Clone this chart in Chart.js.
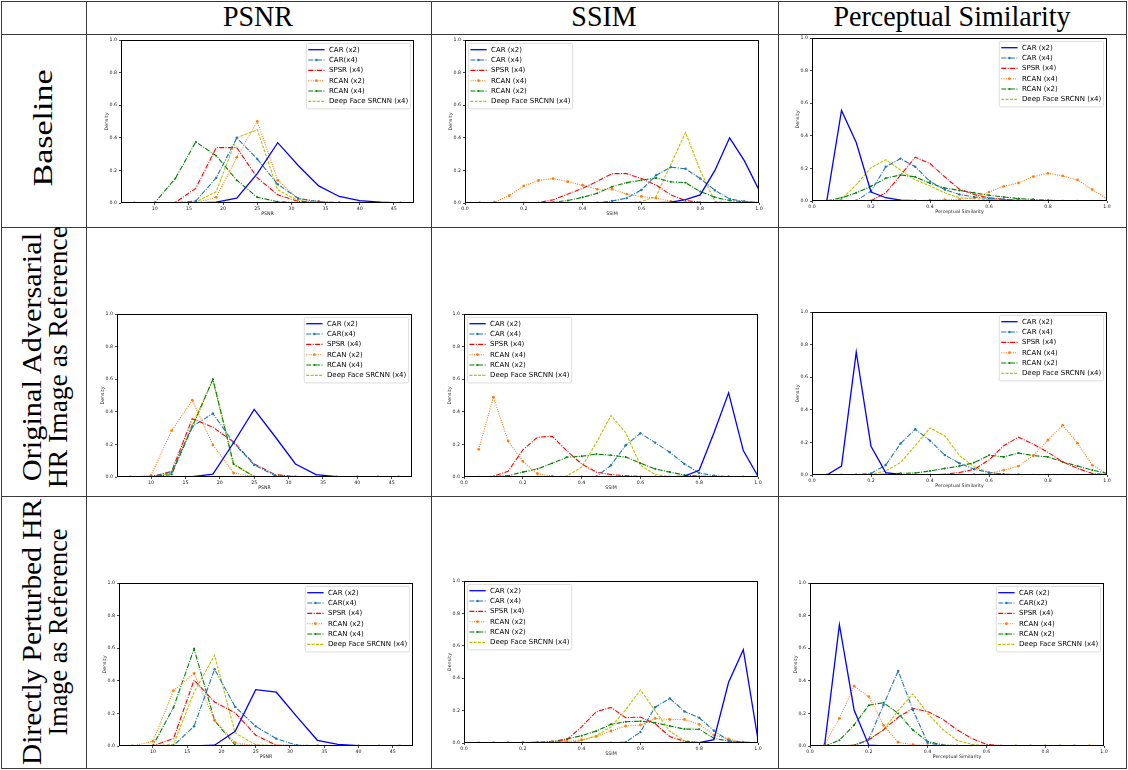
<!DOCTYPE html>
<html><head><meta charset="utf-8">
<script src="https://cdn.jsdelivr.net/npm/chart.js@4.4.0/dist/chart.umd.min.js"></script>
<style>
html,body{margin:0;padding:0;background:#fff;}
#page{position:relative;width:1128px;height:770px;overflow:hidden;background:#fff;}
.hl{position:absolute;height:1px;background:#3a3a3a;}
.vl{position:absolute;width:1px;background:#3a3a3a;}
.lbl{position:absolute;font-family:"Liberation Serif",serif;font-size:28px;line-height:28px;white-space:nowrap;color:#000;}
canvas{position:absolute;}
</style></head><body><div id="page"></div>
<script>
// ---------- text ----------
const colHeaders = ['PSNR', 'SSIM', 'Perceptual Similarity'];
const rowHeaders = [['Baseline'], ['Original Adversarial', 'HR Image as Reference'], ['Directly Perturbed HR', 'Image as Reference']];
const xTitles = ['PSNR', 'SSIM', 'Perceptual Similarity'];
const yTitle = 'Density';
const legendPsnr = ['CAR (x2)', 'CAR(x4)', 'SPSR (x4)', 'RCAN (x2)', 'RCAN (x4)', 'Deep Face SRCNN (x4)'];
const legendUnit = ['CAR (x2)', 'CAR (x4)', 'SPSR (x4)', 'RCAN (x4)', 'RCAN (x2)', 'Deep Face SRCNN (x4)'];
const legendDirSsim = ['CAR (x2)', 'CAR (x4)', 'SPSR (x4)', 'RCAN (x2)', 'RCAN (x2)', 'Deep Face SRCNN (x4)'];
const legendDirPerc = ['CAR (x2)', 'CAR(x2)', 'SPSR (x4)', 'RCAN (x4)', 'RCAN (x2)', 'Deep Face SRCNN (x4)'];

// ---------- x values & ticks ----------
const psnrX = [7, 10, 13, 16, 19, 22, 25, 28, 31, 34, 37, 40, 43, 46];
const unitX = [0.05, 0.10, 0.15, 0.20, 0.25, 0.30, 0.35, 0.40, 0.45, 0.50, 0.55, 0.60, 0.65, 0.70, 0.75, 0.80, 0.85, 0.90, 0.95, 1.00];
const psnrTicks = [10, 15, 20, 25, 30, 35, 40, 45];
const unitTicks = [0, 0.2, 0.4, 0.6, 0.8, 1.0];
const densityTicks = [0, 0.2, 0.4, 0.6, 0.8, 1.0];

// ---------- Baseline ----------
const basePsnrCar2  = [0, 0, 0, 0, 0.005, 0.03, 0.18, 0.37, 0.23, 0.105, 0.04, 0.015, 0.005, 0];
const basePsnrCar4  = [0, 0, 0.001, 0.012, 0.155, 0.40, 0.27, 0.115, 0.028, 0.008, 0.002, 0, 0, 0];
const basePsnrSpsr  = [0, 0, 0.003, 0.09, 0.34, 0.34, 0.155, 0.05, 0.01, 0.002, 0, 0, 0, 0];
const basePsnrRcanO = [0, 0, 0, 0.002, 0.035, 0.28, 0.50, 0.14, 0.025, 0.01, 0.002, 0, 0, 0];
const basePsnrRcanG = [0, 0.002, 0.15, 0.375, 0.29, 0.14, 0.035, 0.008, 0.002, 0, 0, 0, 0, 0];
const basePsnrDfsr  = [0, 0, 0, 0.005, 0.07, 0.40, 0.45, 0.08, 0.015, 0.003, 0, 0, 0, 0];

const baseSsimCar2  = [0, 0, 0, 0, 0, 0, 0, 0, 0, 0, 0, 0, 0.002, 0.005, 0.02, 0.05, 0.2, 0.40, 0.26, 0.08];
const baseSsimCar4  = [0, 0, 0, 0, 0, 0, 0, 0, 0.002, 0.012, 0.03, 0.08, 0.17, 0.22, 0.21, 0.15, 0.078, 0.025, 0.01, 0.002];
const baseSsimSpsr  = [0, 0, 0, 0, 0.002, 0.02, 0.055, 0.09, 0.133, 0.18, 0.18, 0.15, 0.11, 0.05, 0.015, 0.005, 0.002, 0, 0, 0];
const baseSsimRcanO = [0, 0.005, 0.045, 0.105, 0.138, 0.15, 0.131, 0.109, 0.084, 0.085, 0.055, 0.04, 0.03, 0.01, 0.005, 0.002, 0, 0, 0, 0];
const baseSsimRcanG = [0, 0, 0, 0, 0.002, 0.005, 0.015, 0.035, 0.06, 0.1, 0.125, 0.14, 0.154, 0.13, 0.125, 0.07, 0.035, 0.015, 0.008, 0.002];
const baseSsimDfsr  = [0, 0, 0, 0, 0, 0, 0, 0, 0, 0, 0.002, 0.01, 0.04, 0.236, 0.433, 0.2, 0.01, 0.002, 0, 0];

const basePercCar2  = [0, 0.556, 0.359, 0.055, 0.02, 0.005, 0.002, 0, 0, 0, 0, 0, 0, 0, 0, 0, 0, 0, 0, 0];
const basePercCar4  = [0, 0, 0.002, 0.06, 0.21, 0.26, 0.21, 0.12, 0.07, 0.04, 0.025, 0.015, 0.01, 0.005, 0.003, 0.001, 0.001, 0.001, 0.001, 0.001];
const basePercSpsr  = [0, 0, 0, 0.002, 0.05, 0.158, 0.269, 0.23, 0.148, 0.072, 0.04, 0.02, 0.01, 0.005, 0.002, 0, 0, 0, 0, 0];
const basePercRcanO = [0, 0, 0, 0, 0, 0.002, 0.002, 0.005, 0.008, 0.01, 0.02, 0.055, 0.09, 0.111, 0.15, 0.17, 0.154, 0.129, 0.07, 0.014];
const basePercRcanG = [0.002, 0.02, 0.05, 0.09, 0.14, 0.16, 0.148, 0.109, 0.08, 0.065, 0.05, 0.035, 0.025, 0.015, 0.01, 0.005, 0.002, 0, 0, 0];
const basePercDfsr  = [0, 0.01, 0.1, 0.205, 0.253, 0.19, 0.13, 0.092, 0.05, 0.02, 0.015, 0.008, 0.005, 0.002, 0, 0, 0, 0, 0, 0];

// ---------- Original Adversarial HR Image as Reference ----------
const advPsnrCar2  = [0, 0, 0, 0.002, 0.018, 0.21, 0.415, 0.25, 0.08, 0.015, 0.002, 0, 0, 0];
const advPsnrCar4  = [0, 0.002, 0.03, 0.31, 0.39, 0.21, 0.074, 0.01, 0.002, 0, 0, 0, 0, 0];
const advPsnrSpsr  = [0, 0.002, 0.035, 0.358, 0.305, 0.215, 0.08, 0.015, 0.002, 0, 0, 0, 0, 0];
const advPsnrRcanO = [0, 0.01, 0.285, 0.471, 0.197, 0.025, 0.002, 0, 0, 0, 0, 0, 0, 0];
const advPsnrRcanG = [0, 0.002, 0.015, 0.307, 0.6, 0.08, 0.002, 0, 0, 0, 0, 0, 0, 0];
const advPsnrDfsr  = [0, 0, 0.022, 0.32, 0.595, 0.075, 0.003, 0, 0, 0, 0, 0, 0, 0];

const advSsimCar2  = [0, 0, 0, 0, 0, 0, 0, 0, 0, 0, 0, 0, 0, 0, 0.005, 0.041, 0.27, 0.516, 0.162, 0.005];
const advSsimCar4  = [0, 0, 0, 0, 0, 0, 0, 0, 0.002, 0.072, 0.195, 0.268, 0.211, 0.152, 0.08, 0.025, 0.008, 0.002, 0, 0];
const advSsimSpsr  = [0, 0.005, 0.035, 0.166, 0.244, 0.25, 0.16, 0.08, 0.03, 0.015, 0.008, 0.003, 0, 0, 0, 0, 0, 0, 0, 0];
const advSsimRcanO = [0.17, 0.49, 0.221, 0.096, 0.02, 0.005, 0, 0, 0, 0, 0, 0, 0, 0, 0, 0, 0, 0, 0, 0];
const advSsimRcanG = [0, 0.002, 0.008, 0.03, 0.05, 0.084, 0.121, 0.127, 0.141, 0.133, 0.123, 0.085, 0.05, 0.03, 0.012, 0.005, 0.002, 0, 0, 0];
const advSsimDfsr  = [0, 0, 0, 0, 0, 0.002, 0.005, 0.061, 0.21, 0.377, 0.272, 0.072, 0.015, 0.003, 0, 0, 0, 0, 0, 0];

const advPercCar2  = [0, 0.055, 0.754, 0.176, 0.015, 0.003, 0, 0, 0, 0, 0, 0, 0, 0, 0, 0, 0, 0, 0, 0];
const advPercCar4  = [0, 0, 0.002, 0.01, 0.061, 0.193, 0.281, 0.211, 0.123, 0.072, 0.035, 0.015, 0.005, 0.003, 0.001, 0.001, 0.001, 0.001, 0.001, 0.001];
const advPercSpsr  = [0, 0, 0, 0, 0, 0, 0, 0.002, 0.005, 0.015, 0.035, 0.092, 0.18, 0.232, 0.189, 0.139, 0.08, 0.04, 0.01, 0.002];
const advPercRcanO = [0, 0, 0, 0, 0, 0, 0, 0, 0, 0, 0.003, 0.01, 0.03, 0.055, 0.119, 0.215, 0.305, 0.195, 0.061, 0.01];
const advPercRcanG = [0, 0, 0, 0.002, 0.005, 0.01, 0.012, 0.025, 0.04, 0.055, 0.076, 0.121, 0.111, 0.135, 0.119, 0.111, 0.08, 0.055, 0.03, 0.01];
const advPercDfsr  = [0, 0, 0, 0.003, 0.025, 0.076, 0.18, 0.289, 0.24, 0.119, 0.05, 0.015, 0.005, 0.002, 0, 0, 0, 0, 0, 0];

// ---------- Directly Perturbed HR Image as Reference ----------
const dirPsnrCar2  = [0, 0, 0, 0, 0.005, 0.09, 0.346, 0.33, 0.18, 0.035, 0.01, 0.002, 0, 0];
const dirPsnrCar4  = [0, 0, 0.002, 0.121, 0.471, 0.24, 0.121, 0.045, 0.005, 0.002, 0, 0, 0, 0];
const dirPsnrSpsr  = [0, 0.002, 0.045, 0.404, 0.27, 0.203, 0.066, 0.005, 0.002, 0, 0, 0, 0, 0];
const dirPsnrRcanO = [0, 0.029, 0.34, 0.445, 0.158, 0.02, 0.002, 0, 0, 0, 0, 0, 0, 0];
const dirPsnrRcanG = [0, 0.003, 0.236, 0.596, 0.156, 0.005, 0, 0, 0, 0, 0, 0, 0, 0];
const dirPsnrDfsr  = [0, 0, 0.01, 0.33, 0.557, 0.08, 0.008, 0.002, 0, 0, 0, 0, 0, 0];

const dirSsimCar2  = [0, 0, 0, 0, 0, 0, 0, 0, 0, 0, 0, 0, 0, 0, 0, 0.002, 0.02, 0.375, 0.576, 0.02];
const dirSsimCar4  = [0, 0, 0, 0, 0, 0, 0, 0, 0, 0.002, 0.005, 0.068, 0.221, 0.275, 0.195, 0.156, 0.076, 0.015, 0.003, 0];
const dirSsimSpsr  = [0, 0, 0, 0, 0, 0.005, 0.02, 0.1, 0.193, 0.22, 0.156, 0.16, 0.119, 0.04, 0.01, 0.003, 0, 0, 0, 0];
const dirSsimRcanO = [0, 0.001, 0.002, 0.003, 0.005, 0.008, 0.01, 0.02, 0.04, 0.074, 0.105, 0.111, 0.152, 0.145, 0.145, 0.115, 0.049, 0.025, 0.005, 0];
const dirSsimRcanG = [0, 0, 0, 0.002, 0.005, 0.01, 0.025, 0.045, 0.074, 0.115, 0.131, 0.135, 0.125, 0.105, 0.086, 0.085, 0.029, 0.012, 0.005, 0.002];
const dirSsimDfsr  = [0, 0, 0, 0, 0, 0, 0.002, 0.015, 0.045, 0.1, 0.205, 0.328, 0.2, 0.072, 0.015, 0.003, 0, 0, 0, 0];

const dirPercCar2  = [0.01, 0.744, 0.221, 0.005, 0, 0, 0, 0, 0, 0, 0, 0, 0, 0, 0, 0, 0, 0, 0, 0];
const dirPercCar2b = [0, 0, 0.002, 0.041, 0.252, 0.461, 0.221, 0.02, 0.003, 0, 0, 0, 0, 0, 0, 0, 0, 0, 0, 0];
const dirPercSpsr  = [0, 0.001, 0.005, 0.037, 0.1, 0.176, 0.231, 0.211, 0.166, 0.1, 0.047, 0.01, 0.002, 0, 0, 0, 0, 0, 0, 0];
const dirPercRcanO = [0.01, 0.17, 0.367, 0.303, 0.127, 0.023, 0.008, 0.002, 0, 0, 0, 0, 0, 0, 0, 0, 0, 0, 0, 0];
const dirPercRcanG = [0, 0.035, 0.129, 0.25, 0.266, 0.2, 0.098, 0.027, 0.008, 0.002, 0, 0, 0, 0, 0, 0, 0, 0, 0, 0];
const dirPercDfsr  = [0, 0.001, 0.005, 0.04, 0.098, 0.219, 0.32, 0.2, 0.104, 0.035, 0.01, 0.002, 0, 0, 0, 0, 0, 0, 0, 0];

// ---------- styles (per series slot) ----------
const STY = [
  {c: '#0000ff', d: [], r: 0, w: 1.3},
  {c: '#1f77b4', d: [5, 1.4, 1, 1.4], r: 1.2, w: 1.1},
  {c: '#ff0000', d: [5, 1.4, 1, 1.4], r: 0, w: 1.1},
  {c: '#ff7f0e', d: [1, 1.3], r: 1.4, w: 1.1},
  {c: '#008000', d: [5, 1.4, 1, 1.4], r: 1.0, w: 1.1},
  {c: '#bfbf00', d: [3, 1.3], r: 0, w: 1.1}
];

// ---------- layout ----------
const page = document.getElementById('page');
function hl(x1, x2, y) { const d = document.createElement('div'); d.className = 'hl'; d.style.left = x1 + 'px'; d.style.width = (x2 - x1 + 1) + 'px'; d.style.top = y + 'px'; page.appendChild(d); }
function vl(x, y1, y2) { const d = document.createElement('div'); d.className = 'vl'; d.style.left = x + 'px'; d.style.top = y1 + 'px'; d.style.height = (y2 - y1 + 1) + 'px'; page.appendChild(d); }
const gridX = [1, 86, 431, 778, 1126];
const gridY = [1, 34, 227, 496, 768];
gridY.forEach(y => hl(1, 1126, y));
gridX.forEach(x => vl(x, 1, 768));

const measureCtx = document.createElement('canvas').getContext('2d');
measureCtx.font = '28px "Liberation Serif"';
function label(text, cx, cy, rot, targetLen, thick) {
  const d = document.createElement('div');
  d.className = 'lbl';
  d.textContent = text;
  d.style.left = cx + 'px'; d.style.top = cy + 'px';
  let sx = 1;
  if (targetLen) sx = targetLen / measureCtx.measureText(text).width;
  const sy = thick || 1;
  d.style.transform = 'translate(-50%,-50%)' + (rot ? ' rotate(-90deg)' : '') + ` scale(${sx},${sy})`;
  page.appendChild(d);
}
const headCenters = [258, 604, 952];
colHeaders.forEach((t, i) => label(t, headCenters[i], 17, false, 0, 1.05));
const rowCenters = [128, 357, 632];
const rowLens = [[117], [250, 262], [266, 207]];
rowHeaders.forEach((lines, i) => {
  if (lines.length === 1) label(lines[0], 43, rowCenters[i], true, rowLens[i][0], 0.95);
  else { label(lines[0], 32, rowCenters[i], true, rowLens[i][0], 0.95); label(lines[1], 58, rowCenters[i], true, rowLens[i][1], 0.95); }
});

// ---------- plugin: frame + matplotlib-like legend ----------
const mplFrameLegend = {
  id: 'mplFrameLegend',
  afterDatasetsDraw(chart, args, opts) {
    const ctx = chart.ctx, ca = chart.chartArea;
    ctx.save();
    ctx.strokeStyle = '#000'; ctx.lineWidth = 1; ctx.setLineDash([]);
    ctx.strokeRect(ca.left + 0.5, ca.top + 0.5, ca.right - ca.left - 1, ca.bottom - ca.top - 1);
    const ds = chart.data.datasets;
    ctx.font = '7px "DejaVu Sans"';
    let tw = 0; ds.forEach(d => { tw = Math.max(tw, ctx.measureText(d.label).width); });
    const w = 2 + 16.3 + 4.4 + tw + 2.3, h = 65.5;
    const x0 = opts.side === 'left' ? ca.left + 3.4 : ca.right - 3.4 - w;
    const y0 = ca.top + 3.4;
    ctx.beginPath(); ctx.roundRect(x0, y0, w, h, 1.5);
    ctx.fillStyle = 'rgba(255,255,255,0.85)'; ctx.fill();
    ctx.strokeStyle = '#d4d4d4'; ctx.lineWidth = 0.8; ctx.stroke();
    ds.forEach((d, i) => {
      const cy = y0 + 6.3 + i * 10.33;
      const sx = x0 + 2;
      ctx.beginPath(); ctx.moveTo(sx, cy); ctx.lineTo(sx + 16.3, cy);
      ctx.strokeStyle = d.borderColor; ctx.lineWidth = d.borderWidth; ctx.setLineDash(d.borderDash || []); ctx.stroke();
      ctx.setLineDash([]);
      if (d.pointRadius > 0) { ctx.beginPath(); ctx.arc(sx + 8.15, cy, d.pointRadius, 0, Math.PI * 2); ctx.fillStyle = d.borderColor; ctx.fill(); }
      ctx.fillStyle = '#000'; ctx.textBaseline = 'middle'; ctx.textAlign = 'left';
      ctx.fillText(d.label, sx + 16.3 + 4.4, cy + 0.3);
    });
    ctx.restore();
  }
};

Chart.defaults.font.family = '"DejaVu Sans", sans-serif';
Chart.defaults.color = '#222';

const panels = [
  {rect: [121, 40, 414, 203], kind: 0, side: 'right', labels: legendPsnr, series: [basePsnrCar2, basePsnrCar4, basePsnrSpsr, basePsnrRcanO, basePsnrRcanG, basePsnrDfsr]},
  {rect: [465, 40, 759, 203], kind: 1, side: 'left', labels: legendUnit, series: [baseSsimCar2, baseSsimCar4, baseSsimSpsr, baseSsimRcanO, baseSsimRcanG, baseSsimDfsr]},
  {rect: [812, 38, 1107, 201], kind: 2, side: 'right', labels: legendUnit, series: [basePercCar2, basePercCar4, basePercSpsr, basePercRcanO, basePercRcanG, basePercDfsr]},
  {rect: [117, 314, 412, 477], kind: 0, side: 'right', labels: legendPsnr, series: [advPsnrCar2, advPsnrCar4, advPsnrSpsr, advPsnrRcanO, advPsnrRcanG, advPsnrDfsr]},
  {rect: [464, 314, 758, 477], kind: 1, side: 'left', labels: legendUnit, series: [advSsimCar2, advSsimCar4, advSsimSpsr, advSsimRcanO, advSsimRcanG, advSsimDfsr]},
  {rect: [812, 312, 1107, 475], kind: 2, side: 'right', labels: legendUnit, series: [advPercCar2, advPercCar4, advPercSpsr, advPercRcanO, advPercRcanG, advPercDfsr]},
  {rect: [119, 583, 413, 746], kind: 0, side: 'right', labels: legendPsnr, series: [dirPsnrCar2, dirPsnrCar4, dirPsnrSpsr, dirPsnrRcanO, dirPsnrRcanG, dirPsnrDfsr]},
  {rect: [464, 581, 758, 743], kind: 1, side: 'left', labels: legendDirSsim, series: [dirSsimCar2, dirSsimCar4, dirSsimSpsr, dirSsimRcanO, dirSsimRcanG, dirSsimDfsr]},
  {rect: [810, 583, 1104, 746], kind: 2, side: 'right', labels: legendDirPerc, series: [dirPercCar2, dirPercCar2b, dirPercSpsr, dirPercRcanO, dirPercRcanG, dirPercDfsr]}
];

const YW = 24, XH = 16, PT = 4, PR = 5;
const tickFont = {size: 4.7};
const titleFont = {size: 4.7};

panels.forEach(p => {
  const [L, T, R, B] = p.rect;
  const cv = document.createElement('canvas');
  const W = R - L + YW + PR, H = B - T + PT + XH;
  cv.width = W; cv.height = H;
  cv.style.left = (L - YW) + 'px'; cv.style.top = (T - PT) + 'px';
  cv.style.width = W + 'px'; cv.style.height = H + 'px';
  page.appendChild(cv);
  const isPsnr = p.kind === 0;
  const xs = isPsnr ? psnrX : unitX;
  const xTicks = isPsnr ? psnrTicks : unitTicks;
  const datasets = p.series.map((vals, i) => ({
    label: p.labels[i],
    data: xs.map((x, j) => ({x: x, y: vals[j]})),
    borderColor: STY[i].c,
    backgroundColor: STY[i].c,
    borderWidth: STY[i].w,
    borderDash: STY[i].d,
    pointRadius: STY[i].r,
    pointBorderWidth: 0,
    pointBackgroundColor: STY[i].c,
    pointHoverRadius: 0,
    tension: 0,
    fill: false
  }));
  new Chart(cv, {
    type: 'line',
    data: {datasets: datasets},
    plugins: [mplFrameLegend],
    options: {
      responsive: false, animation: false, events: [], devicePixelRatio: 1,
      layout: {padding: {top: PT, right: PR, left: 0, bottom: 0}},
      plugins: {legend: {display: false}, tooltip: {enabled: false}, mplFrameLegend: {side: p.side}},
      scales: {
        x: {
          type: 'linear', position: 'bottom',
          min: isPsnr ? 5.05 : 0, max: isPsnr ? 47.95 : 1,
          afterBuildTicks: s => { s.ticks = xTicks.map(v => ({value: v})); },
          afterFit: s => { s.height = XH; s.paddingLeft = 0; s.paddingRight = 0; s.paddingTop = 0; s.paddingBottom = 0; },
          ticks: {font: tickFont, color: '#222', padding: 1, maxRotation: 0, autoSkip: false,
                  callback: v => isPsnr ? String(v) : Number(v).toFixed(1)},
          grid: {drawOnChartArea: false, drawTicks: true, tickLength: 2, color: '#000', lineWidth: 0.7},
          border: {display: false},
          title: {display: true, text: xTitles[p.kind], font: titleFont, color: '#222', padding: {top: 0, bottom: 2}}
        },
        y: {
          type: 'linear', position: 'left', min: 0, max: 1,
          afterBuildTicks: s => { s.ticks = densityTicks.map(v => ({value: v})); },
          afterFit: s => { s.width = YW; s.paddingLeft = 0; s.paddingRight = 0; s.paddingTop = 0; s.paddingBottom = 0; },
          ticks: {font: tickFont, color: '#222', padding: 2, autoSkip: false, callback: v => Number(v).toFixed(1)},
          grid: {drawOnChartArea: false, drawTicks: true, tickLength: 2, color: '#000', lineWidth: 0.7},
          border: {display: false},
          title: {display: true, text: yTitle, font: titleFont, color: '#222', padding: {top: 7, bottom: 0}}
        }
      }
    }
  });
});
</script></body></html>
